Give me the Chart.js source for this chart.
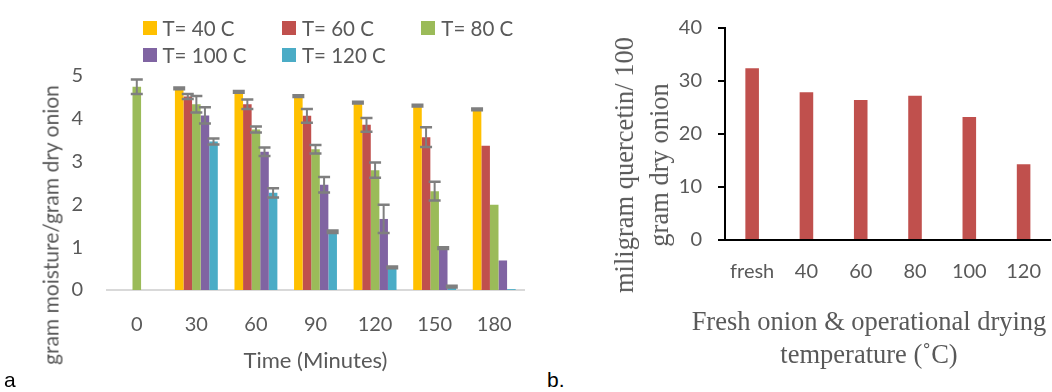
<!DOCTYPE html>
<html><head><meta charset="utf-8">
<script src="https://cdn.jsdelivr.net/npm/chart.js@4/dist/chart.umd.min.js"></script>
<style>
html,body{margin:0;padding:0;background:#fff;width:1052px;height:392px;overflow:hidden;position:relative;}
.abs{position:absolute;white-space:nowrap;}
.sans{font-family:Lato,'DejaVu Sans',sans-serif;color:#595959;}
.serif{font-family:'Liberation Serif','Times New Roman',serif;color:#595959;}
.rot{transform:translate(-50%,-50%) rotate(-90deg);}
.leg{position:absolute;display:flex;align-items:center;font-family:Lato,sans-serif;font-size:20.5px;color:#595959;transform:translateY(-50%);}
.leg span.box{display:inline-block;width:14px;height:14px;margin-right:6px;}
</style></head><body>
<div class="abs" style="left:0;top:0;width:540px;height:392px"><canvas id="c1" width="540" height="392"></canvas></div>
<div class="abs" style="left:580px;top:0;width:481px;height:392px"><canvas id="c2" width="481" height="392"></canvas></div>
<div id="legend"></div>
<div class="abs sans rot" style="left:50px;top:225px;font-size:21px;">gram moisture/gram dry onion</div>
<div class="abs serif rot" style="left:642px;top:165px;font-size:26.5px;line-height:35px;text-align:center;">miligram quercetin/ 100<br>gram dry onion</div>
<div class="abs serif" style="left:869px;top:305px;transform:translateX(-50%);font-size:26.5px;line-height:33px;text-align:center;">Fresh onion &amp; operational drying<br>temperature (˚C)</div>
<div class="abs" style="left:4px;top:368px;font-family:'Liberation Sans',Arial,sans-serif;font-size:21px;color:#000;">a</div>
<div class="abs" style="left:547px;top:368px;font-family:'Liberation Sans',Arial,sans-serif;font-size:21px;color:#000;">b.</div>
<script>
// ---- Panel a data ----
const timeLabels = ['0','30','60','90','120','150','180'];
const seriesNames = ['T= 40 C','T= 60 C','T= 80 C','T= 100 C','T= 120 C'];
const seriesColors = ['#FFC000','#C0504D','#9BBB59','#8064A2','#4BACC6'];
const t40   = [null, 4.71, 4.63, 4.53, 4.38, 4.31, 4.22];
const t60   = [null, 4.52, 4.34, 4.07, 3.86, 3.57, 3.37];
const t80   = [4.75, 4.34, 3.75, 3.29, 2.80, 2.31, 1.99];
const t100  = [null, 4.08, 3.23, 2.46, 1.66, 0.98, 0.69];
const t120  = [null, 3.47, 2.27, 1.36, 0.53, 0.08, 0.02];
const t40err  = [null, 0.02, 0.02, 0.02, 0.02, 0.02, 0.02];
const t60err  = [null, 0.06, 0.11, 0.16, 0.16, 0.23, null];
const t80err  = [0.17, 0.19, 0.07, 0.10, 0.18, 0.22, null];
const t100err = [null, 0.19, 0.10, 0.18, 0.33, 0.02, null];
const t120err = [null, 0.07, 0.11, 0.03, 0.02, 0.02, null];
const moistureTicks = [0,1,2,3,4,5];

// ---- Panel b data ----
const tempLabels = ['fresh','40','60','80','100','120'];
const quercetin = [32.4, 27.9, 26.4, 27.2, 23.2, 14.3];
const quercetinTicks = [0,10,20,30,40];

Chart.defaults.font.family = "Lato, 'DejaVu Sans', sans-serif";
Chart.defaults.color = '#595959';

const seriesData = [t40,t60,t80,t100,t120];
const seriesErr = [t40err,t60err,t80err,t100err,t120err];

// legend (HTML)
const leg = document.getElementById('legend');
seriesNames.forEach((n,i)=>{
  const d = document.createElement('div');
  d.className='leg';
  d.style.left = (142.5 + (i%3)*139.4)+'px';
  d.style.top = (27.7 + Math.floor(i/3)*27.7)+'px';
  d.innerHTML = '<span class="box" style="background:'+seriesColors[i]+'"></span>'+n;
  leg.appendChild(d);
});

const errorBarPlugin = {
  id:'errorBars',
  afterDatasetsDraw(chart){
    const ctx = chart.ctx, y = chart.scales.y;
    chart.data.datasets.forEach((ds,di)=>{
      if(!ds.errors) return;
      const meta = chart.getDatasetMeta(di);
      meta.data.forEach((bar,i)=>{
        const v = ds.data[i], e = ds.errors[i];
        if(v==null || e==null) return;
        const yT = y.getPixelForValue(v+e), yB = y.getPixelForValue(v-e);
        const x = bar.x, hw = 6;
        ctx.save();
        ctx.strokeStyle='#7f7f7f';
        ctx.lineWidth=2;
        ctx.beginPath(); ctx.moveTo(x,yT); ctx.lineTo(x,yB); ctx.stroke();
        ctx.lineWidth=2.5;
        ctx.beginPath();
        ctx.moveTo(x-hw,yT); ctx.lineTo(x+hw,yT);
        ctx.moveTo(x-hw,yB); ctx.lineTo(x+hw,yB);
        ctx.stroke();
        ctx.restore();
      });
    });
  }
};

new Chart(document.getElementById('c1'), {
  type:'bar',
  data:{
    labels: timeLabels,
    datasets: seriesNames.map((n,i)=>({label:n, data:seriesData[i], errors:seriesErr[i], backgroundColor:seriesColors[i], borderWidth:0, categoryPercentage:0.72, barPercentage:1}))
  },
  options:{
    responsive:false, animation:false, devicePixelRatio:1,
    layout:{padding:{left:0,right:16,top:76,bottom:0}},
    plugins:{legend:{display:false}, tooltip:{enabled:false}},
    scales:{
      x:{
        grid:{display:false, drawTicks:false},
        border:{display:true, color:'#d9d9d9', width:2},
        ticks:{padding:23, font:{size:20}, color:'#595959', maxRotation:0, autoSkip:false},
        title:{display:true, text:'Time (Minutes)', font:{size:22}, color:'#595959', padding:{top:0,bottom:18}},
        afterFit(s){ s.height = 102; }
      },
      y:{
        min:0, max:5,
        afterBuildTicks(s){ s.ticks = moistureTicks.map(v=>({value:v})); },
        ticks:{padding:24, font:{size:20}, color:'#595959'},
        grid:{display:false, drawTicks:false},
        border:{display:false},
        afterFit(s){ s.width = 107; }
      }
    }
  },
  plugins:[errorBarPlugin]
});

new Chart(document.getElementById('c2'), {
  type:'bar',
  data:{
    labels: tempLabels,
    datasets:[{label:'quercetin', data:quercetin, backgroundColor:'#C0504D', borderWidth:0, categoryPercentage:0.25, barPercentage:1}]
  },
  options:{
    responsive:false, animation:false, devicePixelRatio:1,
    layout:{padding:{left:0,right:0,top:28,bottom:0}},
    plugins:{legend:{display:false}, tooltip:{enabled:false}},
    scales:{
      x:{
        grid:{display:false, drawTicks:false},
        border:{display:true, color:'#000', width:2},
        ticks:{padding:20, font:{size:20}, color:'#595959', maxRotation:0, autoSkip:false},
        afterFit(s){ s.height = 152; }
      },
      y:{
        min:0, max:40,
        afterBuildTicks(s){ s.ticks = quercetinTicks.map(v=>({value:v})); },
        ticks:{padding:16, font:{size:20}, color:'#595959'},
        grid:{display:true, drawOnChartArea:false, drawTicks:true, tickLength:7, color:'#000', lineWidth:2},
        border:{display:true, color:'#000', width:2},
        afterFit(s){ s.width = 145; }
      }
    }
  }
});
</script>
</body></html>
